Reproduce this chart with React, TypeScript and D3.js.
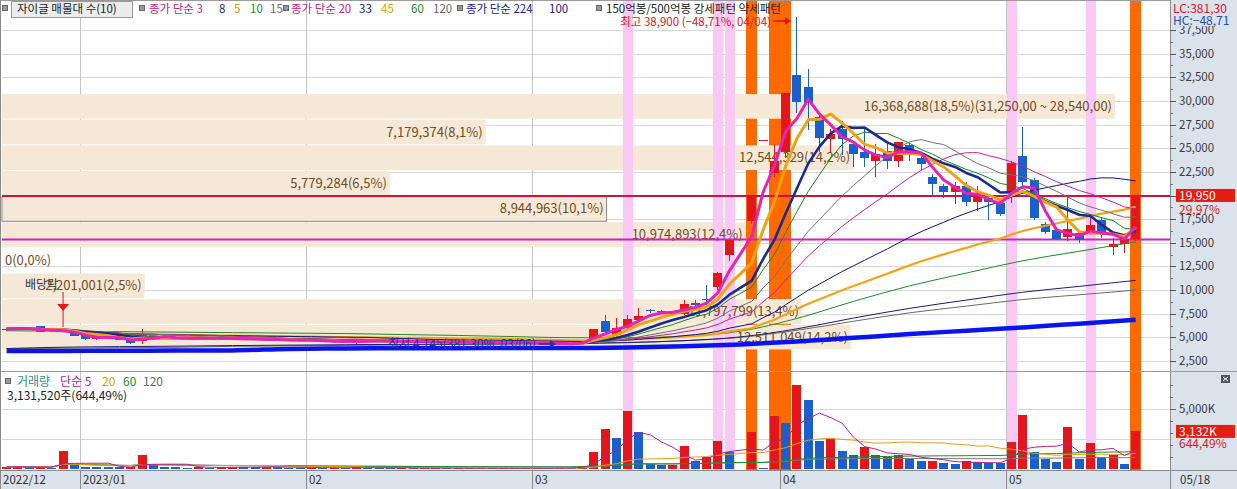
import React from "react";
import * as d3 from "d3";

// ---------- DATA ----------
const dates = ["12/21","12/22","12/23","12/26","12/27","12/28","12/29","01/02","01/03","01/04","01/05","01/06","01/09","01/10","01/11","01/12","01/13","01/16","01/17","01/18","01/19","01/20","01/25","01/26","01/27","01/30","01/31","02/01","02/02","02/03","02/06","02/07","02/08","02/09","02/10","02/13","02/14","02/15","02/16","02/17","02/20","02/21","02/22","02/23","02/24","02/27","02/28","03/02","03/03","03/06","03/07","03/08","03/09","03/10","03/13","03/14","03/15","03/16","03/17","03/20","03/21","03/22","03/23","03/24","03/27","03/28","03/29","03/30","03/31","04/03","04/04","04/05","04/06","04/07","04/10","04/11","04/12","04/13","04/14","04/17","04/18","04/19","04/20","04/21","04/24","04/25","04/26","04/27","04/28","05/02","05/03","05/04","05/08","05/09","05/10","05/11","05/12","05/15","05/16","05/17","05/18"];
const monthLabels = ["2022/12", "2023/01", "02", "03", "04", "05"];

const opens: (number | null)[] = [5750,5850,6000,6150,5650,5800,5750,5250,4800,5100,5050,4750,4650,5200,5000,4950,4900,4950,4900,4850,4900,4850,4800,4850,4700,4750,4700,4650,4700,4650,4500,4400,4650,4600,4650,4550,4600,4550,4500,4550,4500,4450,4500,4450,4400,4450,4400,4350,4400,4250,4350,4300,4600,6700,5300,6000,6800,7900,7750,7650,7500,8650,9100,10300,13700,null,17300,25850,22400,24600,32700,31500,28300,26000,27000,25400,24600,23700,24700,23700,25300,24000,22000,21000,20400,21000,19300,19700,19200,20400,24200,21600,17000,16400,15600,16000,16000,17400,14600,14900,15350];
const highs: (number | null)[] = [5950,6050,6100,6200,5850,5900,5800,5300,5150,5150,5100,4800,5900,5250,5100,5000,5000,5000,4950,4950,4950,4900,4900,4900,4800,4800,4750,4750,4750,4700,4600,4700,4700,4700,4700,4650,4650,4600,4600,4600,4550,4550,4550,4500,4500,4500,4450,4450,4450,4400,4400,4600,5910,7400,7000,7400,8100,8000,7850,7800,8900,8900,10500,11900,15300,null,19890,25850,25400,30800,38900,33400,28600,27000,27900,25600,27000,25400,25600,25700,25500,24300,22300,21200,21400,21400,21000,19900,19400,23700,27200,21800,17200,16700,19800,16200,17800,17700,15500,15800,19950];
const lows: (number | null)[] = [5700,5800,5900,5550,5600,5650,5100,4750,4750,4950,4700,4350,4350,4950,4900,4850,4850,4850,4800,4800,4800,4750,4750,4650,4650,4650,4600,4600,4550,4450,4450,4350,4550,4550,4500,4500,4500,4450,4450,4450,4400,4400,4400,4350,4350,4350,4300,4300,4250,4145,4250,4250,4550,5400,5000,5900,6700,7600,7550,7450,7400,8300,8700,10000,13100,null,17000,25850,22000,24000,28700,26900,24600,24600,24300,23000,23000,22000,22800,23000,23700,22700,19900,19700,19100,18900,18400,17400,17800,19200,21000,17400,15900,15300,15200,15000,15800,15500,13700,13900,15200];
const closes: (number | null)[] = [5900,5950,5950,5600,5750,5750,5150,4800,5100,5050,4750,4400,5300,5000,4950,4900,4950,4900,4850,4900,4850,4800,4850,4700,4750,4700,4650,4700,4600,4500,4550,4650,4600,4650,4550,4600,4550,4500,4550,4500,4450,4500,4450,4400,4450,4400,4350,4400,4300,4350,4300,4550,5910,5600,6000,6900,7300,7750,7650,7550,8500,8450,8900,11800,15300,null,19890,25850,23700,30800,29900,29800,26100,26500,26000,24400,24000,24400,23700,25700,24500,23300,21200,20400,21000,19300,20100,19300,18000,23400,21400,17600,16100,15400,16500,15300,16900,15900,14900,15350,19950];
// volume in thousands of shares
const volumes: (number | null)[] = [180,200,150,160,120,1475,430,200,180,150,130,150,1170,350,200,150,120,150,110,130,200,160,150,200,130,120,100,110,90,120,80,130,90,80,70,90,60,70,80,60,70,60,80,60,50,60,50,70,60,120,100,280,1390,3360,2580,4800,3110,420,360,370,1890,640,1000,2300,1420,null,3060,60,4390,3830,6970,5780,2300,2530,1530,1190,1800,1190,1000,1190,860,640,660,500,420,640,560,500,480,2220,4470,1390,860,560,3470,860,2170,970,1140,420.627,3131.52];

// moving averages (every 5th session) for windows longer than the shown history
const maSampleStep = 5;
const ma60Samples = [5700,5650,5600,5550,5500,5450,5400,5300,5200,5080,4960,4960,5130,5650,7000,8800,10450,11800,13100,14100,15100];
const ma100Samples = [3820,3960,4020,4070,4130,4180,4220,4260,4290,4320,4350,4450,4650,5050,5900,7040,8070,8940,9770,10390,11025];
const ma120Samples = [3800,3850,3900,3950,4050,4100,4150,4200,4250,4300,4350,4450,4650,5000,5750,6700,7600,8300,9000,9500,10000];
const ma224Samples = [3560,3570,3580,3600,3620,3780,3830,3850,3860,3870,3880,3920,4050,4250,4550,4950,5350,5700,6050,6450,6850];

// price-volume profile (10 bands, bottom -> top)
const profileLow = 4145;
const profileHigh = 31250;
const profileVolumes = [12511049, 11797799, 2201001, 0, 10974893, 8944963, 5779284, 12544329, 7179374, 16368688];

// 150억봉 (pink) / 500억봉 (orange) signal days
const strongDays = ["03/14", "03/24", "03/27", "05/02", "05/12"];
const megaDays = ["03/29", "03/31", "04/03", "05/18"];
const exDividendDay = "12/28";

const priceTicks = d3.range(2500, 37501, 2500);

// ---------- HELPERS ----------
const FONT = "'Noto Sans CJK KR', 'Noto Sans', sans-serif";
const RED = "#e4161c";
const BLUE = "#1b5fcc";
const kfmt = (v: number, digits: number) => d3.format(`,.${digits}f`)(v).replace(/\.(\d+)$/, ",$1");

function sma(values: (number | null)[], win: number): (number | null)[] {
  const buf: number[] = [];
  return values.map((v) => {
    if (v == null) return null;
    buf.push(v);
    return d3.mean(buf.slice(-win)) as number;
  });
}

export default function App() {
  const n = dates.length;
  const xb = d3.scaleBand<number>().domain(d3.range(n)).range([1, 1 + n * 11.29]);
  const step = xb.step();
  const cx = (i: number) => (xb(i) as number) + step / 2;
  const yP = d3.scaleLinear().domain([2500, 37500]).range([361, 30]);
  const yV = d3.scaleLinear().domain([0, 5000]).range([469, 409]);
  const idx = (d: string) => dates.indexOf(d);

  const valid = d3.range(n).filter((i) => closes[i] != null);
  const line = d3.line<[number, number]>().x((d) => d[0]).y((d) => d[1]);
  const smooth = d3.line<[number, number]>().x((d) => d[0]).y((d) => d[1]).curve(d3.curveMonotoneX);

  const computedMA = (win: number) => {
    const m = sma(closes, win);
    return line(valid.map((i) => [cx(i), yP(m[i] as number)]) as [number, number][]) as string;
  };
  const sampledMA = (arr: number[]) =>
    smooth(arr.map((v, k) => [cx(Math.min(k * maSampleStep, n - 1)), yP(v)]) as [number, number][]) as string;

  const priceLines = [
    { d: sampledMA(ma224Samples), c: "#0a14f0", w: 4.5 },
    { d: sampledMA(ma120Samples), c: "#6a6a6a", w: 1 },
    { d: sampledMA(ma100Samples), c: "#1c1c78", w: 1 },
    { d: sampledMA(ma60Samples), c: "#1d8a2a", w: 1 },
    { d: computedMA(45), c: "#f0a418", w: 2.2 },
    { d: computedMA(33), c: "#101088", w: 1 },
    { d: computedMA(20), c: "#c41ea8", w: 1 },
    { d: computedMA(15), c: "#707070", w: 1 },
    { d: computedMA(10), c: "#138a1a", w: 1 },
    { d: computedMA(8), c: "#1a2a90", w: 2.6 },
    { d: computedMA(5), c: "#f2a20c", w: 3 },
    { d: computedMA(3), c: "#e424b4", w: 3 },
  ];

  const vValid = d3.range(n).filter((i) => volumes[i] != null);
  const volLine = (win: number) => {
    const m = sma(volumes, win);
    return line(vValid.map((i) => [cx(i), yV(m[i] as number)]) as [number, number][]) as string;
  };
  const volLines = [
    { d: volLine(120), c: "#7a7a7a" },
    { d: volLine(60), c: "#1d8a2a" },
    { d: volLine(20), c: "#e0a020" },
    { d: volLine(5), c: "#b4208e" },
  ];

  // stats
  const last = n - 1;
  const lastClose = closes[last] as number;
  const prevClose = closes[last - 1] as number;
  const lastVol = volumes[last] as number;
  const prevVol = volumes[last - 1] as number;
  const hiVal = d3.max(highs as number[]) as number;
  const hiIdx = highs.indexOf(hiVal);
  const loVal = d3.min(lows.filter((v) => v != null) as number[]) as number;
  const loIdx = lows.indexOf(loVal);
  const lc = (lastClose / loVal - 1) * 100;
  const hc = (lastClose / hiVal - 1) * 100;
  const chg = (lastClose / prevClose - 1) * 100;
  const vchg = (lastVol / prevVol - 1) * 100;

  // profile
  const bandH = (profileHigh - profileLow) / profileVolumes.length;
  const profTotal = d3.sum(profileVolumes);
  const profX = d3.scaleLinear().domain([0, d3.max(profileVolumes) as number]).range([-6, 1115]);
  const curBand = Math.floor((lastClose - profileLow) / bandH);

  const monthStarts = d3.range(1, n).filter((i) => dates[i].slice(0, 2) !== dates[i - 1].slice(0, 2));

  const PR = 1170;
  const slotX = (i: number) => xb(i) as number;

  return (
    <div style={{ width: 1237, height: 489 }}>
      <style>{"body{margin:0;}"}</style>
      <svg width={1237} height={489} style={{ display: "block", fontFamily: FONT }}>
        <defs>
          <clipPath id="pc"><rect x={1} y={0} width={PR - 1} height={370} /></clipPath>
          <clipPath id="vc"><rect x={1} y={372} width={PR - 1} height={98} /></clipPath>
        </defs>
        <rect x={0} y={0} width={1237} height={489} fill="#ffffff" />

        {/* grid */}
        {priceTicks.map((t) => (
          <line key={"g" + t} x1={2} x2={PR} y1={Math.round(yP(t)) + 0.5} y2={Math.round(yP(t)) + 0.5} stroke="#d6d6d6" />
        ))}
        {[2500, 5000].map((t) => (
          <line key={"gv" + t} x1={2} x2={PR} y1={Math.round(yV(t)) + 0.5} y2={Math.round(yV(t)) + 0.5} stroke="#d6d6d6" />
        ))}
        {monthStarts.map((i) => (
          <line key={"m" + i} x1={Math.round(slotX(i)) + 0.5} x2={Math.round(slotX(i)) + 0.5} y1={0} y2={489} stroke="#c4c4c4" />
        ))}

        {/* 500억봉 highlight */}
        {megaDays.map((d) => (
          <rect key={"o" + d} x={Math.round(slotX(idx(d)))} y={0} width={Math.round(step)} height={470} fill="#ff6a00" />
        ))}

        {/* price volume profile */}
        <g clipPath="url(#pc)">
          {profileVolumes.map((v, k) => {
            if (v === 0) return null;
            const yt = yP(profileLow + (k + 1) * bandH) + 5;
            const yb = yP(profileLow + k * bandH) + 4;
            return (
              <rect key={"b" + k} x={2} y={yt} width={profX(v) - 2} height={yb - yt} fill="#f6e8d7"
                stroke={k === curBand ? "#8a8a8a" : "none"} strokeWidth={1} />
            );
          })}
        </g>

        {/* 150억봉 highlight */}
        {strongDays.map((d) => (
          <rect key={"p" + d} x={Math.round(slotX(idx(d))) + 1} y={0} width={Math.round(step) - 1} height={470} fill="#f9c8f5" />
        ))}

        {/* profile texts */}
        <g clipPath="url(#pc)" fontSize={13} fill="#6c4e24">
          {profileVolumes.map((v, k) => {
            const yt = yP(profileLow + (k + 1) * bandH) + 5;
            const yb = yP(profileLow + k * bandH) + 4;
            const pct = kfmt((v / profTotal) * 100, 1);
            let label = `${d3.format(",")(v)}(${pct}%)`;
            if (k === profileVolumes.length - 1) {
              label += `(${kfmt(Math.round(profileHigh), 2)} ~ ${kfmt(Math.round(profileLow + k * bandH), 2)})`;
            }
            return v === 0 ? (
              <text key={"t" + k} x={5} y={(yt + yb) / 2 + 4.5}>{label}</text>
            ) : (
              <text key={"t" + k} x={profX(v) - 3} y={(yt + yb) / 2 + 4.5} textAnchor="end">{label}</text>
            );
          })}
        </g>

        {/* reference lines */}
        <line x1={2} x2={PR} y1={yP(lastClose)} y2={yP(lastClose)} stroke="#d0123e" strokeWidth={2} />
        <line x1={2} x2={PR} y1={yP(prevClose)} y2={yP(prevClose)} stroke="#d41ec6" strokeWidth={2} />

        {/* candles */}
        <g clipPath="url(#pc)">
          {valid.map((i) => {
            const o = opens[i] as number, c = closes[i] as number, h = highs[i] as number, l = lows[i] as number;
            const col = c >= o ? RED : BLUE;
            const left = Math.round(cx(i) - 4.5);
            const top = Math.round(yP(Math.max(o, c)));
            const bot = Math.round(yP(Math.min(o, c)));
            return (
              <g key={"c" + i}>
                <line x1={left + 4.5} x2={left + 4.5} y1={Math.round(yP(h))} y2={Math.round(yP(l))} stroke={col} />
                <rect x={left} y={top} width={9} height={Math.max(1, bot - top)} fill={col} />
              </g>
            );
          })}
        </g>

        {/* moving averages */}
        <g clipPath="url(#pc)" fill="none">
          {priceLines.map((p, k) => (
            <path key={"l" + k} d={p.d} stroke={p.c} strokeWidth={p.w} strokeLinejoin="round" />
          ))}
        </g>

        {/* ex-dividend marker */}
        <text x={25} y={289} fontSize={12} fill="#333">배당락</text>
        <line x1={cx(idx(exDividendDay))} x2={cx(idx(exDividendDay))} y1={292} y2={327} stroke={RED} />
        <path d={`M${cx(idx(exDividendDay)) - 6},304 L${cx(idx(exDividendDay)) + 6},304 L${cx(idx(exDividendDay))},311 Z`} fill={RED} />

        {/* high / low annotations */}
        <text x={cx(hiIdx) - 26} y={26} fontSize={11.5} fill="#e0141c" textAnchor="end">
          {`최고 ${d3.format(",")(hiVal)} (${kfmt(hc, 2)}%, ${dates[hiIdx]})`}
        </text>
        <line x1={cx(hiIdx) - 24} x2={cx(hiIdx) - 8} y1={21} y2={21} stroke="#e0141c" strokeWidth={1.5} />
        <path d={`M${cx(hiIdx) - 6},21 L${cx(hiIdx) - 12},17 L${cx(hiIdx) - 12},25 Z`} fill="#e0141c" />
        <text x={cx(loIdx) - 24} y={348} fontSize={12} fill="#1a3a9a" textAnchor="end">
          {`최저 ${d3.format(",")(loVal)}(${kfmt(lc, 2)}%, ${dates[loIdx]})`}
        </text>
        <line x1={cx(loIdx) - 21} x2={cx(loIdx) - 6} y1={344} y2={344} stroke="#1a3a9a" strokeWidth={1.5} />
        <path d={`M${cx(loIdx) - 4},344 L${cx(loIdx) - 10},340 L${cx(loIdx) - 10},348 Z`} fill="#1a3a9a" />

        {/* volume bars */}
        <g clipPath="url(#vc)">
          {vValid.map((i, k) => {
            const v = volumes[i] as number;
            const pv = k > 0 ? (volumes[vValid[k - 1]] as number) : 0;
            const col = v > pv ? RED : BLUE;
            const left = Math.round(cx(i) - 4.5);
            const top = Math.round(yV(v));
            return <rect key={"v" + i} x={left} y={top} width={9} height={Math.max(1, 469 - top)} fill={col} />;
          })}
          <g fill="none" strokeWidth={1}>
            {volLines.map((p, k) => <path key={"vl" + k} d={p.d} stroke={p.c} />)}
          </g>
        </g>

        {/* top legend */}
        <g fontSize={11.5}>
          <rect x={2.5} y={5.5} width={5} height={5} fill="#9a9a9a" stroke="#666" />
          <rect x={11.5} y={1.5} width={121} height={16} fill="#ececec" stroke="#9a9a9a" />
          <text x={17} y={13} fill="#222">자이글 매물대 수(10)</text>
          <rect x={139.5} y={5.5} width={5} height={5} fill="#9a9a9a" stroke="#666" />
          <text x={149} y={13} fill="#d0168e">종가 단순 3</text>
          <text x={219} y={13} fill="#1a2a90">8</text>
          <text x={234} y={13} fill="#d8a000">5</text>
          <text x={250} y={13} fill="#138a1a">10</text>
          <text x={270} y={13} fill="#666">15</text>
          <rect x={283.5} y={5.5} width={5} height={5} fill="#9a9a9a" stroke="#666" />
          <text x={291} y={13} fill="#d0168e">종가 단순 20</text>
          <text x={359} y={13} fill="#101088">33</text>
          <text x={381} y={13} fill="#d8a000">45</text>
          <text x={411} y={13} fill="#138a1a">60</text>
          <text x={433} y={13} fill="#666">120</text>
          <rect x={457.5} y={5.5} width={5} height={5} fill="#9a9a9a" stroke="#666" />
          <text x={466} y={13} fill="#1020b0">종가 단순 224</text>
          <text x={549} y={13} fill="#1c1c78">100</text>
          <rect x={596.5} y={5.5} width={5} height={5} fill="#9a9a9a" stroke="#666" />
          <text x={606} y={13} fill="#222">150억봉/500억봉 강세패턴 약세패턴</text>
        </g>

        {/* volume legend */}
        <g fontSize={12}>
          <rect x={5.5} y={378.5} width={5} height={5} fill="#9a9a9a" stroke="#666" />
          <text x={17} y={386} fill="#2e8c8c">거래량</text>
          <text x={60} y={386} fill="#c0208e">단순 5</text>
          <text x={102} y={386} fill="#d8a000">20</text>
          <text x={123} y={386} fill="#1d8a2a">60</text>
          <text x={143} y={386} fill="#666">120</text>
          <text x={7} y={400} fill="#222">{`${d3.format(",")(Math.round(lastVol * 1000))}주(${kfmt(vchg, 2)}%)`}</text>
        </g>

        {/* right axis panel */}
        <rect x={PR} y={0} width={1237 - PR} height={489} fill="#dae2ec" />
        <rect x={0} y={470} width={1237} height={19} fill="#dae2ec" />
        {monthStarts.map((i) => (
          <line key={"ma" + i} x1={Math.round(slotX(i)) + 0.5} x2={Math.round(slotX(i)) + 0.5} y1={470} y2={489} stroke="#8a8a8a" />
        ))}
        <line x1={PR + 0.5} x2={PR + 0.5} y1={0} y2={489} stroke="#8a8a8a" />
        <line x1={0} x2={1237} y1={371.5} y2={371.5} stroke="#9a9a9a" />
        <line x1={0} x2={1237} y1={470.5} y2={470.5} stroke="#8a8a8a" />
        <line x1={0.5} x2={0.5} y1={0} y2={489} stroke="#8a8a8a" />
        <line x1={0} x2={PR} y1={0.5} y2={0.5} stroke="#9a9a9a" />

        <g fontSize={11.5} fill="#3a3a3a">
          {priceTicks.map((t) => (
            <g key={"pt" + t}>
              <line x1={PR} x2={PR + 6} y1={Math.round(yP(t)) + 0.5} y2={Math.round(yP(t)) + 0.5} stroke="#555" />
              <text x={PR + 9} y={yP(t) + 4}>{d3.format(",")(t)}</text>
            </g>
          ))}
          {d3.range(3750, 37500, 2500).map((t) => (
            <line key={"mt" + t} x1={PR} x2={PR + 3} y1={Math.round(yP(t)) + 0.5} y2={Math.round(yP(t)) + 0.5} stroke="#777" />
          ))}
          {d3.range(1000, 7001, 1000).map((t) => (
            <line key={"vt" + t} x1={PR} x2={PR + (t === 5000 ? 6 : 3)} y1={Math.round(yV(t)) + 0.5} y2={Math.round(yV(t)) + 0.5} stroke="#666" />
          ))}
          <text x={PR + 9} y={yV(5000) + 4}>5,000K</text>
        </g>
        <rect x={PR + 1} y={0} width={1237 - PR - 1} height={26} fill="#dae2ec" />
        <text x={PR + 3} y={13} fontSize={12} fill="#e0141c">{`LC:${kfmt(lc, 2)}`}</text>
        <text x={PR + 3} y={25} fontSize={12} fill="#1d4fbf">{`HC:${kfmt(hc, 2)}`}</text>

        <rect x={PR + 6} y={yP(lastClose) - 7} width={59} height={13} fill="#e41e12" />
        <text x={PR + 9} y={yP(lastClose) + 4.5} fontSize={12} fill="#fff">{d3.format(",")(lastClose)}</text>
        <text x={PR + 9} y={yP(lastClose) + 18} fontSize={12} fill="#e0141c">{`${kfmt(chg, 2)}%`}</text>

        <rect x={PR + 6} y={yV(lastVol) - 6.5} width={59} height={13} fill="#e41e12" />
        <text x={PR + 9} y={yV(lastVol) + 4.5} fontSize={12} fill="#fff">{`${d3.format(",")(Math.round(lastVol))}K`}</text>
        <text x={PR + 9} y={yV(lastVol) + 17} fontSize={12} fill="#e0141c">{`${kfmt(vchg, 2)}%`}</text>

        <rect x={1221} y={375} width={9} height={8} fill="#555" />
        <path d="M1223,377 L1228,381 M1228,377 L1223,381" stroke="#fff" strokeWidth={1} />

        {/* x labels */}
        <g fontSize={11.5} fill="#333">
          <text x={3} y={484}>{monthLabels[0]}</text>
          {monthStarts.map((i, k) => (
            <text key={"xl" + i} x={Math.round(slotX(i)) + 3} y={484}>{monthLabels[k + 1]}</text>
          ))}
          <text x={PR + 10} y={484}>{dates[last]}</text>
        </g>
      </svg>
    </div>
  );
}
